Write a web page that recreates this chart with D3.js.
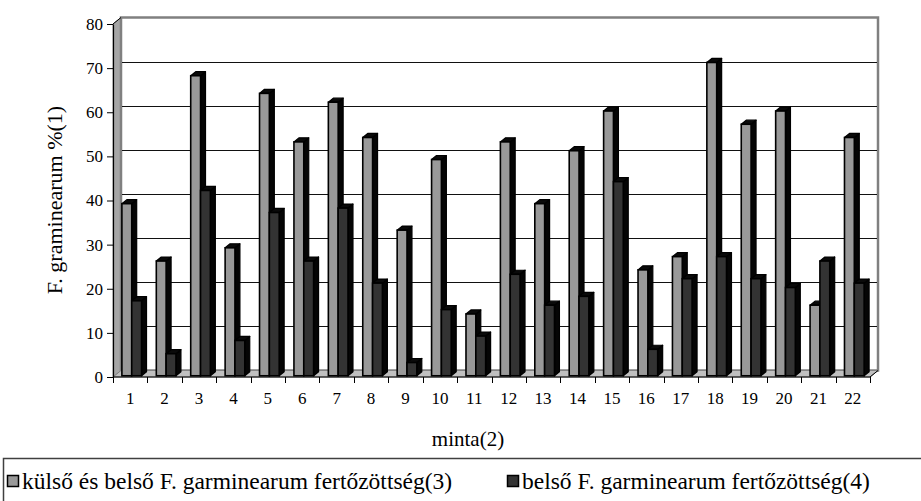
<!DOCTYPE html>
<html>
<head>
<meta charset="utf-8">
<script src="https://cdn.jsdelivr.net/npm/d3@7"></script>
<style>
  html, body { margin: 0; padding: 0; background: #fff; }
  svg { display: block; }
  text { font-family: "Liberation Serif", "Times New Roman", serif; fill: #000; }
</style>
</head>
<body>
<svg id="chart" width="921" height="501"></svg>
<script>
// Sample identifiers along the category axis
const samples = ["1","2","3","4","5","6","7","8","9","10","11","12","13","14","15","16","17","18","19","20","21","22"];
// External + internal infection (%)
const outerInner = [39, 26, 68, 29, 64, 53, 62, 54, 33, 49, 14, 53, 39, 51, 60, 24, 27, 71, 57, 60, 16, 54];
// Internal infection only (%)
const innerOnly = [17, 5, 42, 8, 37, 26, 38, 21, 3, 15, 9, 23, 16, 18, 44, 6, 22, 27, 22, 20, 26, 21];
const yTicks = [0, 10, 20, 30, 40, 50, 60, 70, 80];
const seriesNames = ["külső és belső F. garminearum fertőzöttség(3)", "belső F. garminearum fertőzöttség(4)"];
const yTitle = "F. graminearum %(1)";
const xTitle = "minta(2)";

const svg = d3.select("#chart");

// Front plane scales; the back wall is shifted by (DX, -DY)
const x = d3.scaleBand().domain(samples).range([113, 870]).paddingInner(0).paddingOuter(0);
const y = d3.scaleLinear().domain([0, 80]).range([377, 24]);
const DX = 8, DY = 6.5;
const proj = (px, v, z) => [px + z * DX, y(v) - z * DY];

const x0 = x.range()[0], x1 = x.range()[1];

// Side wall (left), seen almost edge-on
svg.append("polygon")
  .attr("points", [proj(x0, 0, 0), proj(x0, 80, 0), proj(x0, 80, 1), proj(x0, 0, 1)].join(" "))
  .attr("fill", "#a6a6a6").attr("stroke", "#8c8c8c").attr("stroke-width", 1);

// Back wall
const bl = proj(x0, 80, 1), br = proj(x1, 0, 1);
svg.append("rect")
  .attr("x", bl[0]).attr("y", bl[1])
  .attr("width", br[0] - bl[0]).attr("height", br[1] - bl[1])
  .attr("fill", "#fff").attr("stroke", "#808080").attr("stroke-width", 2.5);

// Gridlines on the back wall
svg.append("g").selectAll("line")
  .data(yTicks.filter(t => t > 0 && t < 80))
  .join("line")
  .attr("x1", d => proj(x0, d, 1)[0] + 1).attr("x2", d => proj(x1, d, 1)[0] - 1)
  .attr("y1", d => Math.round(proj(x0, d, 1)[1]) + 0.5).attr("y2", d => Math.round(proj(x0, d, 1)[1]) + 0.5)
  .attr("stroke", "#111").attr("stroke-width", 1);

// Floor
svg.append("polygon")
  .attr("points", [proj(x0, 0, 0), proj(x1, 0, 0), proj(x1, 0, 1), proj(x0, 0, 1)].join(" "))
  .attr("fill", "#c0c0c0").attr("stroke", "#808080").attr("stroke-width", 1);

// Top-left and bottom-right edges of the box
svg.append("line")
  .attr("x1", proj(x0, 80, 0)[0]).attr("y1", proj(x0, 80, 0)[1])
  .attr("x2", proj(x0, 80, 1)[0]).attr("y2", proj(x0, 80, 1)[1])
  .attr("stroke", "#000").attr("stroke-width", 1);
svg.append("line")
  .attr("x1", proj(x1, 0, 0)[0]).attr("y1", proj(x1, 0, 0)[1])
  .attr("x2", proj(x1, 0, 1)[0]).attr("y2", proj(x1, 0, 1)[1])
  .attr("stroke", "#000").attr("stroke-width", 1);

// 3D columns
const bw = x.bandwidth() / 3.5;
const z0 = 0.19, z1 = 0.81;
const fills = ["#999999", "#333333"];
const rows = [];
samples.forEach((s, i) => {
  rows.push({ s, v: outerInner[i], k: 0 });
  rows.push({ s, v: innerOnly[i], k: 1 });
});

const bars = svg.append("g").selectAll("g").data(rows).join("g");
bars.each(function (d) {
  const g = d3.select(this);
  const left = x(d.s) + (0.75 + d.k) * bw;
  const right = left + bw;
  // right side face
  g.append("polygon")
    .attr("points", [proj(right, d.v, z0), proj(right, d.v, z1), proj(right, 0, z1), proj(right, 0, z0)].join(" "))
    .attr("fill", "#050505").attr("stroke", "#000").attr("stroke-width", 1.2).attr("stroke-linejoin", "round");
  // top face
  g.append("polygon")
    .attr("points", [proj(left, d.v, z0), proj(right, d.v, z0), proj(right, d.v, z1), proj(left, d.v, z1)].join(" "))
    .attr("fill", "#0a0a0a").attr("stroke", "#000").attr("stroke-width", 1.2).attr("stroke-linejoin", "round");
  // front face
  const ft = proj(left, d.v, z0), fb = proj(right, 0, z0);
  g.append("rect")
    .attr("x", ft[0]).attr("y", ft[1])
    .attr("width", fb[0] - ft[0]).attr("height", fb[1] - ft[1])
    .attr("fill", fills[d.k]).attr("stroke", "#000").attr("stroke-width", 1.6);
});

// Value axis on the front plane
const yAxis = svg.append("g")
  .attr("transform", `translate(${x0},0)`)
  .call(d3.axisLeft(y).tickValues(yTicks).tickSize(6).tickSizeOuter(0).tickPadding(4));
yAxis.select(".domain").attr("stroke", "#000").attr("stroke-width", 1.2);
yAxis.selectAll(".tick line").attr("stroke", "#000");
yAxis.selectAll(".tick text").style("font-size", "17px").style("font-family", "Liberation Serif");

// Category axis on the front plane
svg.append("line")
  .attr("x1", x0).attr("x2", x1).attr("y1", y(0)).attr("y2", y(0))
  .attr("stroke", "#000").attr("stroke-width", 1.2);
const bounds = samples.map(s => x(s)).concat([x1]);
svg.append("g").selectAll("line").data(bounds).join("line")
  .attr("x1", d => Math.round(d) + 0.5).attr("x2", d => Math.round(d) + 0.5)
  .attr("y1", y(0)).attr("y2", y(0) + 6)
  .attr("stroke", "#000").attr("stroke-width", 1);
const xAxis = svg.append("g")
  .attr("transform", `translate(0,${y(0)})`)
  .call(d3.axisBottom(x).tickSize(0).tickPadding(15));
xAxis.select(".domain").remove();
xAxis.selectAll(".tick text").style("font-size", "17px").style("font-family", "Liberation Serif");

// Axis titles
svg.append("text")
  .attr("transform", "translate(62,200) rotate(-90)")
  .attr("text-anchor", "middle")
  .style("font-size", "22px")
  .text(yTitle);
svg.append("text")
  .attr("x", 468).attr("y", 446)
  .attr("text-anchor", "middle")
  .style("font-size", "21px")
  .text(xTitle);

// Legend
svg.append("rect")
  .attr("x", 3.5).attr("y", 458.5).attr("width", 940).attr("height", 60)
  .attr("fill", "#fff").attr("stroke", "#404040").attr("stroke-width", 1.5);
const legendX = [7, 507];
const leg = svg.append("g").selectAll("g").data(seriesNames).join("g")
  .attr("transform", (d, i) => `translate(${legendX[i]},0)`);
leg.append("rect")
  .attr("x", 0.5).attr("y", 475.5).attr("width", 11).attr("height", 11)
  .attr("fill", (d, i) => fills[i]).attr("stroke", "#000").attr("stroke-width", 1.5);
leg.append("text")
  .attr("x", 15).attr("y", 489)
  .style("font-size", "23.5px")
  .text(d => d);
</script>
</body>
</html>
